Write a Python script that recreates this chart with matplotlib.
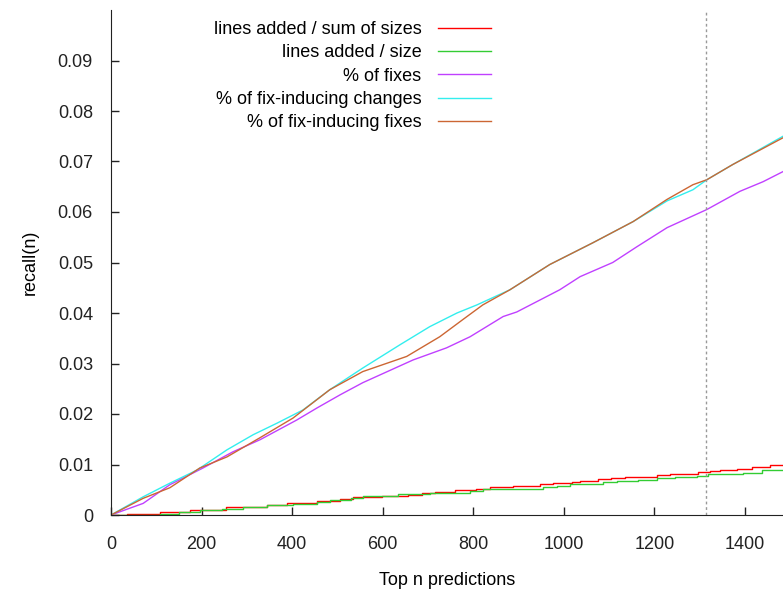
import matplotlib
matplotlib.use("Agg")
import matplotlib.pyplot as plt

plt.rcParams["font.family"] = ["Liberation Sans", "DejaVu Sans"]
plt.rcParams["font.size"] = 13

# values
cyan_x = [0, 71, 130, 190, 256, 314, 367, 424, 483, 556, 638, 704, 764, 808, 881,
          969, 1064, 1153, 1228, 1285, 1316, 1373, 1484]
cyan_y = [0, 0.0036, 0.0063, 0.0089, 0.0129, 0.0159, 0.0182, 0.0208, 0.0248, 0.0291,
          0.0337, 0.0373, 0.0400, 0.0416, 0.0446, 0.0496, 0.0539, 0.0581, 0.0622,
          0.0644, 0.0664, 0.0694, 0.0750]

orange_x = [0, 71, 130, 196, 256, 329, 402, 483, 556, 653, 726, 777, 821, 881, 969,
            1064, 1153, 1228, 1285, 1316, 1373, 1484]
orange_y = [0, 0.0033, 0.0054, 0.0093, 0.0115, 0.0153, 0.0192, 0.0248, 0.0284, 0.0314,
            0.0353, 0.0387, 0.0416, 0.0446, 0.0496, 0.0539, 0.0581, 0.0625, 0.0654,
            0.0664, 0.0694, 0.0747]

purple_x = [0, 71, 130, 203, 269, 329, 410, 455, 506, 556, 667, 741, 793, 866, 896,
            991, 1036, 1108, 1161, 1228, 1316, 1389, 1440, 1484]
purple_y = [0, 0.0023, 0.0060, 0.0093, 0.0125, 0.0149, 0.0188, 0.0212, 0.0238, 0.0262,
            0.0307, 0.0331, 0.0353, 0.0393, 0.0402, 0.0446, 0.0472, 0.0500, 0.0531,
            0.0569, 0.0605, 0.0641, 0.0660, 0.0680]

red_x = [0, 35, 108, 174, 255, 344, 388, 454, 506, 535, 598, 656, 686, 715, 760, 807,
         837, 888, 947, 977, 1017, 1035, 1076, 1105, 1135, 1205, 1234, 1297, 1323,
         1345, 1382, 1415, 1455, 1484]
red_y = [0, 0.0001, 0.0005, 0.0010, 0.0015, 0.0020, 0.0023, 0.0028, 0.0032, 0.0035,
         0.0037, 0.0040, 0.0043, 0.0046, 0.0049, 0.0052, 0.0055, 0.0058, 0.0062,
         0.0064, 0.0066, 0.0068, 0.0071, 0.0073, 0.0076, 0.0079, 0.0082, 0.0085,
         0.0087, 0.0089, 0.0092, 0.0095, 0.0100, 0.0100]

green_x = [0, 108, 150, 196, 245, 291, 345, 402, 455, 483, 531, 557, 634, 704, 793,
           822, 955, 984, 1013, 1087, 1117, 1164, 1205, 1245, 1293, 1319, 1396, 1437,
           1484]
green_y = [0, 0.0001, 0.0005, 0.0009, 0.0012, 0.0016, 0.0019, 0.0022, 0.0026, 0.0030,
           0.0033, 0.0037, 0.0041, 0.0044, 0.0048, 0.0052, 0.0055, 0.0057, 0.0062,
           0.0065, 0.0068, 0.0070, 0.0073, 0.0076, 0.0078, 0.0081, 0.0084, 0.0089,
           0.0089]

cutoff_x = 1314
xticks = [0, 200, 400, 600, 800, 1000, 1200, 1400]
yticks = [0, 0.01, 0.02, 0.03, 0.04, 0.05, 0.06, 0.07, 0.08, 0.09]
ytick_labels = ["0", "0.01", "0.02", "0.03", "0.04", "0.05", "0.06", "0.07", "0.08", "0.09"]

fig = plt.figure(figsize=(7.83, 5.91), dpi=100)
ax = fig.add_axes([111 / 783, 76 / 591, 672 / 783, 505 / 591])

ax.plot(red_x, red_y, color="#ff0000", lw=1, drawstyle="steps-post",
        label="lines added / sum of sizes")
ax.plot(green_x, green_y, color="#33cc33", lw=1, drawstyle="steps-post",
        label="lines added / size")
ax.plot(purple_x, purple_y, color="#c040ff", lw=1, label="% of fixes")
ax.plot(cyan_x, cyan_y, color="#33eeee", lw=1, label="% of fix-inducing changes")
ax.plot(orange_x, orange_y, color="#cc6633", lw=1, label="% of fix-inducing fixes")
ax.axvline(cutoff_x, color="#999999", lw=1, linestyle=(0, (2, 2)))

ax.set_xlim(0, 1484)
ax.set_ylim(0, 0.1)
ax.set_xticks(xticks)
ax.set_yticks(yticks)
ax.set_yticklabels(ytick_labels)
ax.tick_params(axis="both", direction="in", length=6, width=1, colors="#222222")
ax.tick_params(axis="y", pad=13)
ax.tick_params(axis="x", pad=15)
for s in ["top", "right"]:
    ax.spines[s].set_visible(False)
for s in ["left", "bottom"]:
    ax.spines[s].set_color("#222222")

ax.set_xlabel("Top n predictions", labelpad=14)
ax.set_ylabel("recall(n)", labelpad=14)

leg = ax.legend(loc="upper right", bbox_to_anchor=(491 / 783, 570 / 591),
                bbox_transform=fig.transFigure, frameon=False, markerfirst=False,
                borderpad=0, borderaxespad=0, handlelength=2.95, handletextpad=0.9,
                labelspacing=0.35, fontsize=13)

fig.savefig("out.png", dpi=100)
